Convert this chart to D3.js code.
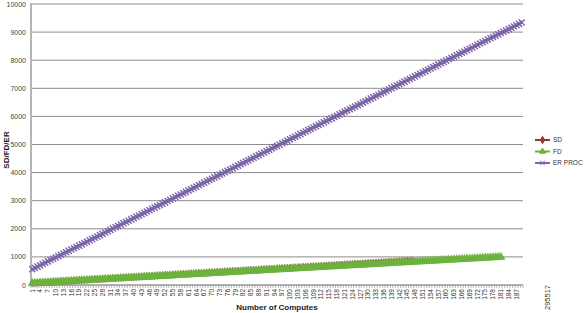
<html>
<head>
  <script src="https://d3js.org/d3.v7.min.js"></script>
  <style>
  body { margin: 0; background: #fff; }
  text { font-family: "Liberation Sans", Arial, sans-serif; }
  </style>
</head>
<body>
  <div id="chart"></div>
  <script>
    // values
    var erProc = [560,607,653,700,747,794,840,887,934,980,1027,1074,1120,1167,1214,1261,1307,1354,1401,1447,
      1494,1541,1587,1634,1681,1728,1774,1821,1868,1914,1961,2008,2054,2101,2148,2195,2241,2288,2335,2381,
      2428,2475,2521,2568,2615,2662,2708,2755,2802,2848,2895,2942,2988,3035,3082,3129,3175,3222,3269,3315,
      3362,3409,3455,3502,3549,3596,3642,3689,3736,3782,3829,3876,3922,3969,4016,4063,4109,4156,4203,4249,
      4296,4343,4389,4436,4483,4530,4576,4623,4670,4716,4763,4810,4856,4903,4950,4997,5043,5090,5137,5183,
      5230,5277,5323,5370,5417,5464,5510,5557,5604,5650,5697,5744,5790,5837,5884,5931,5977,6024,6071,6117,
      6164,6211,6257,6304,6351,6398,6444,6491,6538,6584,6631,6678,6724,6771,6818,6865,6911,6958,7005,7051,
      7098,7145,7191,7238,7285,7332,7378,7425,7472,7518,7565,7612,7658,7705,7752,7799,7845,7892,7939,7985,
      8032,8079,8125,8172,8219,8266,8312,8359,8406,8452,8499,8546,8592,8639,8686,8733,8779,8826,8873,8919,
      8966,9013,9059,9106,9153,9200,9246,9293,9340];

    var fd = [60,65,70,76,81,86,91,96,102,107,112,117,122,128,133,138,143,148,154,159,
      164,169,174,180,185,190,195,200,206,211,216,221,226,232,237,242,247,252,258,263,
      268,273,278,284,289,294,299,304,310,315,320,325,330,336,341,346,351,356,362,367,
      372,377,382,388,393,398,403,408,414,419,424,429,434,440,445,450,455,460,466,471,
      476,481,486,492,497,502,507,512,518,523,528,533,538,544,549,554,559,564,570,575,
      580,585,590,596,601,606,611,616,622,627,632,637,642,648,653,658,663,668,674,679,
      684,689,694,700,705,710,715,720,726,731,736,741,746,752,757,762,767,772,778,783,
      788,793,798,804,809,814,819,824,830,835,840,845,850,856,861,866,871,876,882,887,
      892,897,902,908,913,918,923,928,934,939,944,949,954,960,965,970,975,980,986,991,
      996];

    var sd = [70,76,81,87,92,98,103,109,114,120,125,131,136,142,147,153,158,164,169,175,
      180,186,191,197,202,208,213,219,224,230,235,241,246,252,257,263,268,274,279,285,
      290,296,301,307,312,318,323,329,334,340,345,351,356,362,367,373,378,384,389,395,
      400,406,411,417,422,428,433,439,444,450,455,461,466,472,477,483,488,494,499,505,
      510,516,521,527,532,538,543,549,554,560,565,571,576,582,587,593,598,604,609,615,
      620,626,631,637,642,648,653,659,664,670,675,681,686,692,697,703,708,714,719,725,
      730,736,741,747,752,758,763,769,774,780,785,791,796,802,807,813,818,824,829,835,
      840,846,851,857,862,868,873];

    var computes = d3.range(1, erProc.length + 1);
    var yTicks = [0,1000,2000,3000,4000,5000,6000,7000,8000,9000,10000];
    var seriesNames = ["SD", "FD", "ER PROC"];
    var seriesColors = ["#973431", "#6cb33e", "#7b63aa"];

    var svg = d3.select("#chart").append("svg")
      .attr("width", 584).attr("height", 313);

    var x = d3.scaleBand().domain(computes).range([31, 523]);
    var y = d3.scaleLinear().domain([0, 10000]).range([285, 4]);

    // gridlines
    svg.selectAll("line.grid").data(yTicks.slice(1)).enter().append("line")
      .attr("x1", 31).attr("x2", 523)
      .attr("y1", function(d){ return y(d); }).attr("y2", function(d){ return y(d); })
      .attr("stroke", "#8c8c8c").attr("stroke-width", 1);

    // y tick labels
    svg.selectAll("text.ytick").data(yTicks).enter().append("text")
      .attr("x", 26).attr("y", function(d){ return y(d) + 2.5; })
      .attr("text-anchor", "end").attr("font-size", 7).attr("fill", "#444")
      .text(function(d){ return d; });

    // x axis
    svg.append("line").attr("x1", 31).attr("x2", 523).attr("y1", 285).attr("y2", 285)
      .attr("stroke", "#666").attr("stroke-width", 1);
    svg.selectAll("line.xtick").data(computes.concat([computes.length + 1])).enter().append("line")
      .attr("x1", function(d){ return 31 + (d - 1) * x.step(); })
      .attr("x2", function(d){ return 31 + (d - 1) * x.step(); })
      .attr("y1", 285).attr("y2", 288)
      .attr("stroke", "#888").attr("stroke-width", 0.6);
    svg.selectAll("text.xtick").data(computes.filter(function(d){ return (d - 1) % 3 === 0; }))
      .enter().append("text")
      .attr("transform", function(d){ return "translate(" + (x(d) + x.bandwidth()/2 + 2.2) + ",289) rotate(-90)"; })
      .attr("text-anchor", "end").attr("font-size", 6.5).attr("fill", "#333")
      .text(function(d){ return d; });

    // y axis
    svg.append("line").attr("x1", 31).attr("x2", 31).attr("y1", 3).attr("y2", 286)
      .attr("stroke", "#b4b4b4").attr("stroke-width", 2);

    var cx = function(i){ return x(computes[i]) + x.bandwidth()/2; };
    var line = d3.line().x(function(d, i){ return cx(i); }).y(function(d){ return y(d); });

    function drawSeries(data, color, symbol, size, filled) {
      svg.append("path").datum(data).attr("d", line)
        .attr("fill", "none").attr("stroke", color).attr("stroke-width", 2.5);
      svg.selectAll(null).data(data).enter().append("path")
        .attr("transform", function(d, i){ return "translate(" + cx(i) + "," + y(d) + ")"; })
        .attr("d", d3.symbol().type(symbol).size(size))
        .attr("fill", filled ? color : "none")
        .attr("stroke", color).attr("stroke-width", filled ? 0.5 : 1.4);
    }

    drawSeries(sd, seriesColors[0], d3.symbolDiamond, 16, true);
    drawSeries(fd, seriesColors[1], d3.symbolTriangle, 30, true);
    drawSeries(erProc, seriesColors[2], d3.symbolX, 26, false);

    // legend
    var legendSymbols = [d3.symbolDiamond, d3.symbolTriangle, d3.symbolX];
    var lg = svg.selectAll("g.legend").data(seriesNames).enter().append("g")
      .attr("transform", function(d, i){ return "translate(535," + (140 + i * 11.5) + ")"; });
    lg.append("line").attr("x1", 0).attr("x2", 15).attr("y1", 0).attr("y2", 0)
      .attr("stroke", function(d, i){ return seriesColors[i]; }).attr("stroke-width", 2);
    lg.append("path").attr("transform", "translate(7.5,0)")
      .attr("d", function(d, i){ return d3.symbol().type(legendSymbols[i]).size(16)(); })
      .attr("fill", function(d, i){ return i < 2 ? seriesColors[i] : "none"; })
      .attr("stroke", function(d, i){ return seriesColors[i]; }).attr("stroke-width", 1);
    lg.append("text").attr("x", 18).attr("y", 2.3).attr("font-size", 6.5).attr("fill", "#333")
      .text(function(d){ return d; });

    // axis titles
    svg.append("text").attr("x", 277).attr("y", 310).attr("text-anchor", "middle")
      .attr("font-size", 8).attr("font-weight", "bold").attr("fill", "#222")
      .text("Number of Computes");
    svg.append("text").attr("transform", "translate(9,150) rotate(-90)").attr("text-anchor", "middle")
      .attr("font-size", 8).attr("font-weight", "bold").attr("fill", "#222")
      .text("SD/FD/ER");
    svg.append("text").attr("transform", "translate(550,310) rotate(-90)")
      .attr("font-size", 7.5).attr("fill", "#333")
      .text("295517");
  </script>
</body>
</html>
